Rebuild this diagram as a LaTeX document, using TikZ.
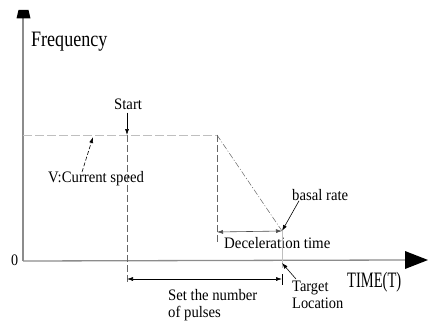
\documentclass[tikz,border=0pt]{standalone}
\usepackage{fontspec}
\setmainfont{Liberation Serif}
\usetikzlibrary{arrows.meta}
\newcommand\nx[2]{\scalebox{#1}[1]{#2}}
\begin{document}
\begin{tikzpicture}[x=1pt,y=-1pt,
  lbl/.style={font=\fontsize{16}{18}\selectfont, inner sep=0pt, anchor=west},
  big/.style={font=\fontsize{22}{24}\selectfont, inner sep=0pt, anchor=west},
  axis/.style={draw=black!45, line width=1.3pt},
  guide/.style={draw=black!60, line width=0.5pt, dash pattern=on 7pt off 3pt},
  light/.style={draw=black!25, line width=0.8pt, dash pattern=on 9pt off 3pt},
  tip/.style={-{Latex[length=6pt,width=4pt]}, line width=0.6pt},
  dtip/.style={{Latex[length=6pt,width=4pt]}-{Latex[length=6pt,width=4pt]}, line width=0.6pt}]
\useasboundingbox (0,0) rectangle (428,321);
% coordinates
\coordinate (O) at (23,261);
\coordinate (Ytop) at (23,18);
\coordinate (Xend) at (406,260);
\coordinate (Vleft) at (23,135);
\coordinate (Vstart) at (127,135);
\coordinate (Corner) at (217,135);
\coordinate (Cbot) at (217,242);
\coordinate (Sbot) at (127,285);
\coordinate (Base) at (282,231);
\coordinate (Dl) at (217,232);
\coordinate (Tgt) at (282,263);
\coordinate (Tgtl) at (282,268);
\coordinate (Pl) at (127,279);
\coordinate (Pr) at (282,279);
\coordinate (Pt1) at (282,274);
\coordinate (Pt2) at (282,285);
\coordinate (Vtip) at (93,137);
% axes
\draw[axis] (O) -- (Ytop);
\fill[black] (16.5,18.5) -- (30.5,18.5) -- (28.5,10) -- (18.5,10) -- cycle;
\draw[axis] (O) -- (Xend);
\fill[black] (405,251) -- (428,260) -- (405,269) -- cycle;
% texts
\node[big] (freq) at (31,42) {\nx{0.82}{Frequency}};
\node[lbl] (zero) at (11,260) {\nx{0.88}{0}};
\node[lbl] (start) at (114,104) {\nx{0.92}{Start}};
\node[lbl] (vcur) at (48,179) {\nx{0.92}{V:Current speed}};
\node[lbl] (basal) at (292,195) {\nx{0.92}{basal rate}};
\node[lbl] (decel) at (224,243) {\nx{0.93}{Deceleration time}};
\node[big] (time) at (347,282) {\nx{0.66}{TIME(T)}};
\node[lbl,anchor=north west] (target) at (292,279) {\nx{0.9}{\begin{tabular}{@{}l@{}}Target\\[-1pt]Location\end{tabular}}};
\node[lbl,anchor=north west] (pulses) at (168,288) {\nx{0.92}{\begin{tabular}{@{}l@{}}Set the number\\[-1pt]of pulses\end{tabular}}};
% speed level
\draw[light] (Vleft) -- (Corner);
% start line
\draw[guide] (Vstart) -- (Sbot);
\draw[tip] (start.south -| Vstart) ++(0,3) -- (Vstart);
% deceleration
\draw[guide] (Corner) -- (Cbot);
\draw[draw=black!60, line width=0.5pt, dash pattern=on 6pt off 2pt on 1pt off 2pt] (Corner) -- (Base);
\draw[dtip, draw=black!70] (Dl) -- (Base);
\draw[tip] (basal.south west) ++(7,0) -- (Base);
% target
\draw[draw=black!25, line width=0.5pt] (Base) -- (Tgtl);
\draw[tip] (target.north west) ++(4,0) -- (Tgt);
\draw[line width=0.6pt] (Pt1) -- (Pt2);
\draw[dtip] (Pl) -- (Pr);
% current speed arrow
\draw[tip, dash pattern=on 4pt off 2pt] (82,172) -- (Vtip);
\end{tikzpicture}
\end{document}
